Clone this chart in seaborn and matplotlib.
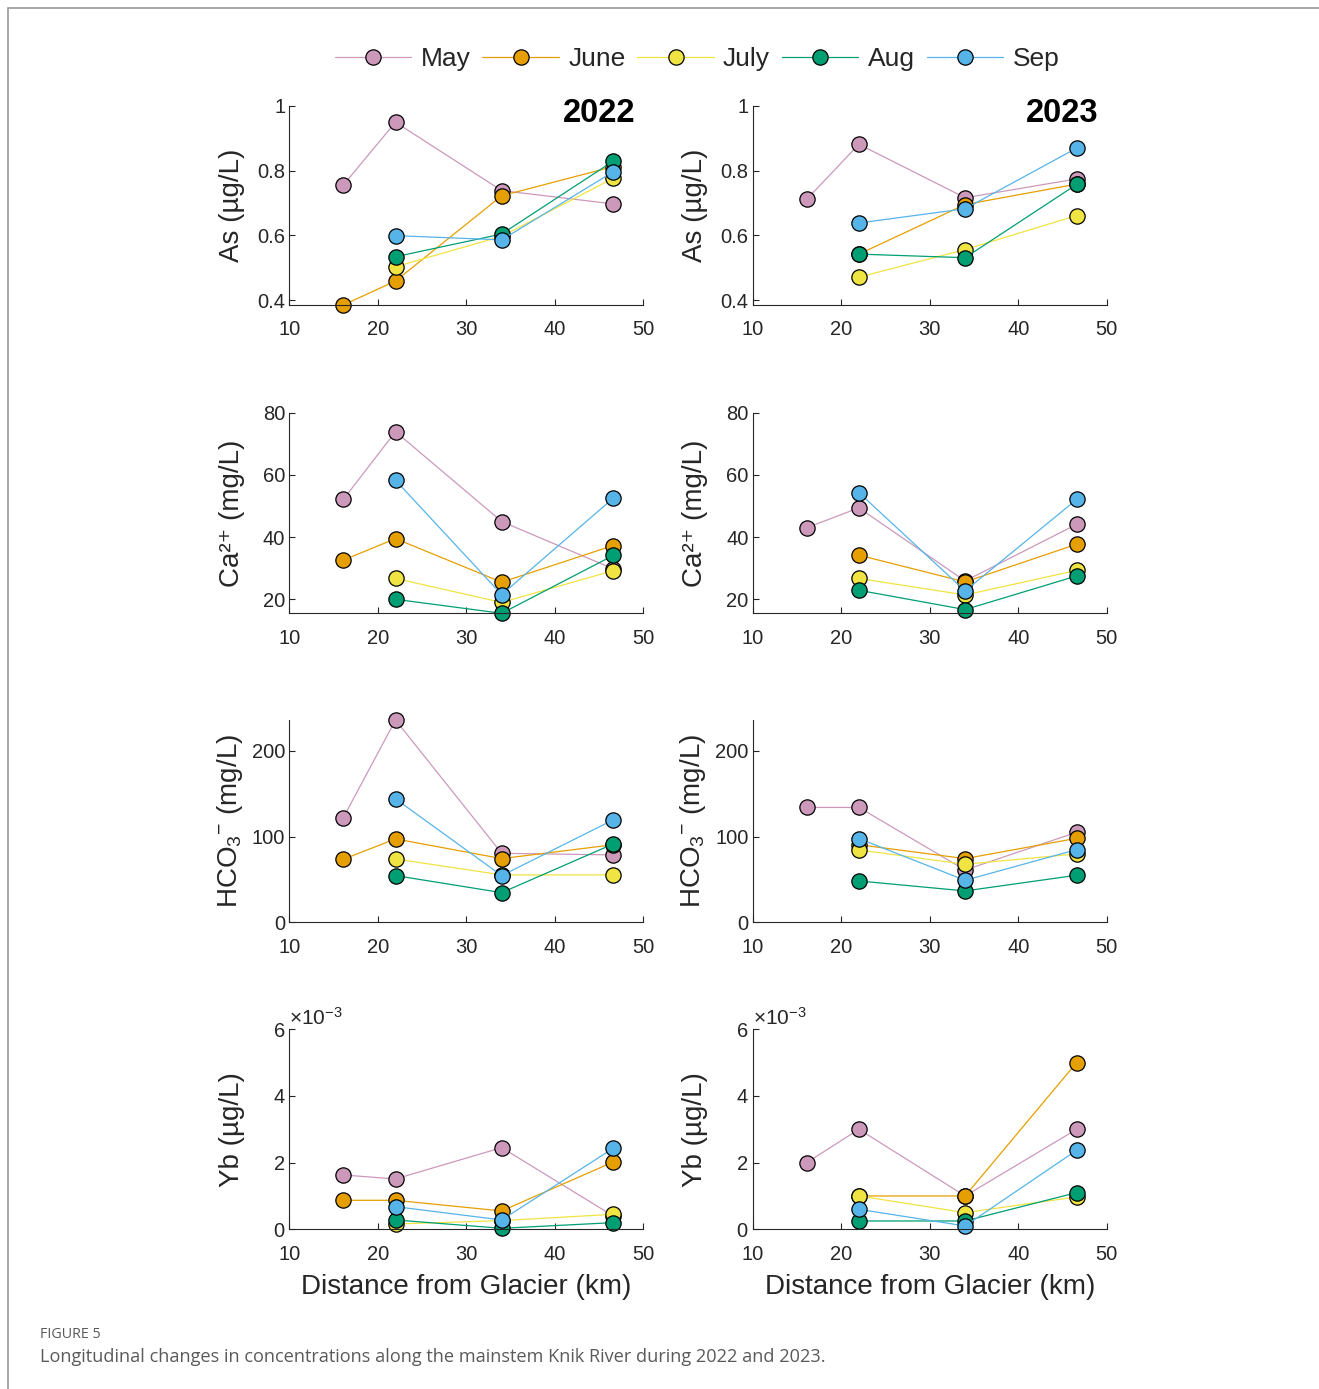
import numpy as np
import pandas as pd
import matplotlib
matplotlib.use("Agg")
import matplotlib.pyplot as plt
import seaborn as sns
from matplotlib.lines import Line2D

nan = np.nan

# months and colours
months = ["May", "June", "July", "Aug", "Sep"]
month_colors = ["#CC99BB", "#E69F00", "#F0E442", "#009E73", "#56B4E9"]

# sampling sites, distance from glacier (km)
distance_km = [16.1, 22.0, 34.0, 46.6]

# rows = months (May..Sep), columns = sites; nan = not sampled
as_2022 = [
    [0.755, 0.949, 0.738, 0.697],
    [0.385, 0.459, 0.722, 0.812],
    [nan, 0.503, 0.597, 0.776],
    [nan, 0.534, 0.604, 0.829],
    [nan, 0.599, 0.586, 0.796],
]
as_2023 = [
    [0.711, 0.881, 0.716, 0.774],
    [nan, 0.542, 0.695, 0.758],
    [nan, 0.471, 0.556, 0.661],
    [nan, 0.542, 0.531, 0.757],
    [nan, 0.638, 0.682, 0.869],
]
ca_2022 = [
    [52.1, 73.9, 45.0, 29.8],
    [32.6, 39.5, 25.5, 37.3],
    [nan, 26.7, 19.0, 29.2],
    [nan, 20.0, 15.5, 34.1],
    [nan, 58.3, 21.5, 52.5],
]
ca_2023 = [
    [43.0, 49.4, 25.9, 44.1],
    [nan, 34.2, 25.6, 37.7],
    [nan, 26.7, 21.4, 29.3],
    [nan, 22.9, 16.7, 27.5],
    [nan, 54.3, 22.7, 52.1],
]
hco3_2022 = [
    [122.0, 236.0, 80.5, 78.6],
    [73.5, 97.3, 74.3, 90.5],
    [nan, 73.9, 55.3, 55.3],
    [nan, 54.5, 34.6, 91.4],
    [nan, 144.0, 54.5, 119.5],
]
hco3_2023 = [
    [134.0, 134.0, 61.0, 105.0],
    [nan, 90.5, 74.3, 98.0],
    [nan, 84.4, 67.7, 79.8],
    [nan, 48.2, 36.6, 54.9],
    [nan, 97.7, 49.0, 84.8],
]
# Yb in 1e-3 ug/L
yb_2022_e3 = [
    [1.63, 1.51, 2.45, 0.40],
    [0.87, 0.87, 0.55, 2.02],
    [nan, 0.16, 0.26, 0.45],
    [nan, 0.28, 0.03, 0.20],
    [nan, 0.68, 0.28, 2.43],
]
yb_2023_e3 = [
    [2.0, 3.0, 1.0, 3.0],
    [nan, 1.0, 1.0, 5.0],
    [nan, 1.0, 0.5, 0.97],
    [nan, 0.25, 0.25, 1.1],
    [nan, 0.6, 0.1, 2.37],
]

years = ["2022", "2023"]
x_ticks = [10, 20, 30, 40, 50]


def long_frame(table, scale=1.0):
    rows = []
    for m, vals in zip(months, table):
        for d, v in zip(distance_km, vals):
            if not np.isnan(v):
                rows.append((m, d, v * scale))
    return pd.DataFrame(rows, columns=["month", "distance", "value"])


sns.set_style("ticks")
plt.rcParams["font.family"] = ["Liberation Sans", "DejaVu Sans"]
plt.rcParams["mathtext.fontset"] = "custom"
plt.rcParams["mathtext.rm"] = "Liberation Sans"
plt.rcParams["mathtext.it"] = "Liberation Sans:italic"
plt.rcParams["mathtext.default"] = "regular"

ink = "#262626"
W, H = 1319, 1389
fig = plt.figure(figsize=(W / 100, H / 100), dpi=100)

# panel rows: label, tables, scale, ylim, yticks, ticklabels
panels = [
    ("As (µg/L)", [as_2022, as_2023], 1.0, (0.385, 1.0), [0.4, 0.6, 0.8, 1.0], ["0.4", "0.6", "0.8", "1"]),
    ("Ca²⁺ (mg/L)", [ca_2022, ca_2023], 1.0, (15.5, 80), [20, 40, 60, 80], ["20", "40", "60", "80"]),
    ("HCO$_3{}^{-}$ (mg/L)", [hco3_2022, hco3_2023], 1.0, (0, 236), [0, 100, 200], ["0", "100", "200"]),
    ("Yb (µg/L)", [yb_2022_e3, yb_2023_e3], 1e-3, (0, 6e-3), [0, 2e-3, 4e-3, 6e-3], None),
]

col_left = [289.3, 752.7]
col_width = 354.0
row_top = [105.7, 412.7, 720.0, 1029.3]
row_bottom = [305.0, 613.3, 922.3, 1229.3]

for r, (ylabel, tables, scale, ylim, yticks, yticklabels) in enumerate(panels):
    for c in range(2):
        ax = fig.add_axes([col_left[c] / W, 1 - row_bottom[r] / H,
                           col_width / W, (row_bottom[r] - row_top[r]) / H])
        df = long_frame(tables[c], scale)
        sns.lineplot(data=df, x="distance", y="value", hue="month",
                     hue_order=months, palette=month_colors, marker="o",
                     markersize=11, markeredgecolor="black", markeredgewidth=0.9,
                     linewidth=0.9, errorbar=None, sort=False, legend=False,
                     ax=ax, clip_on=False)
        ax.set_xlim(10, 50)
        ax.set_ylim(*ylim)
        ax.set_xticks(x_ticks)
        ax.set_yticks(yticks)
        if yticklabels is not None:
            ax.set_yticklabels(yticklabels)
        else:
            ax.ticklabel_format(axis="y", style="sci", scilimits=(-3, -3), useMathText=True)
            off = ax.yaxis.get_offset_text()
            off.set_fontsize(15)
            off.set_color(ink)
        sns.despine(ax=ax)
        for s in ["left", "bottom"]:
            ax.spines[s].set_color(ink)
            ax.spines[s].set_linewidth(0.8)
        ax.tick_params(axis="both", direction="in", length=4, width=0.8,
                       colors=ink, labelsize=14.5)
        ax.tick_params(axis="x", pad=11)
        ax.tick_params(axis="y", pad=3)
        ax.set_ylabel(ylabel, fontsize=20, color=ink)
        ax.yaxis.set_label_coords(-0.125, 0.5)
        if r == 3:
            ax.set_xlabel("Distance from Glacier (km)", fontsize=20, color=ink)
            ax.xaxis.set_label_coords(0.5, -0.225)
        else:
            ax.set_xlabel("")
        if r == 0:
            ax.text(0.977, 0.963, years[c], transform=ax.transAxes, ha="right",
                    va="center", fontsize=23.5, fontweight="bold", color="black")

# shared legend across the top
handles = [Line2D([], [], color=col, marker="o", markersize=11, markeredgecolor="black",
                  markeredgewidth=0.9, linewidth=0.9) for col in month_colors]
fig.legend(handles, months, loc="center", bbox_to_anchor=(697 / W, 1 - 59 / H),
           ncol=5, frameon=False, fontsize=19, handlelength=2.9,
           handletextpad=0.35, columnspacing=0.45)

# page frame and caption
frame = "#9a9a9a"
fig.add_artist(Line2D([8 / W, 1], [1 - 8 / H, 1 - 8 / H], transform=fig.transFigure, color=frame, lw=1.2))
fig.add_artist(Line2D([8 / W, 8 / W], [0, 1 - 8 / H], transform=fig.transFigure, color=frame, lw=1.2))
fig.text(40 / W, 1 - 1334 / H, "FIGURE 5", fontsize=10.3, color="#5a5a5a",
         family="Open Sans", va="center")
fig.text(40 / W, 1 - 1357 / H,
         "Longitudinal changes in concentrations along the mainstem Knik River during 2022 and 2023.",
         fontsize=13.1, color="#5a5a5a", family="Open Sans", va="center")

fig.savefig("out.png", dpi=100)
